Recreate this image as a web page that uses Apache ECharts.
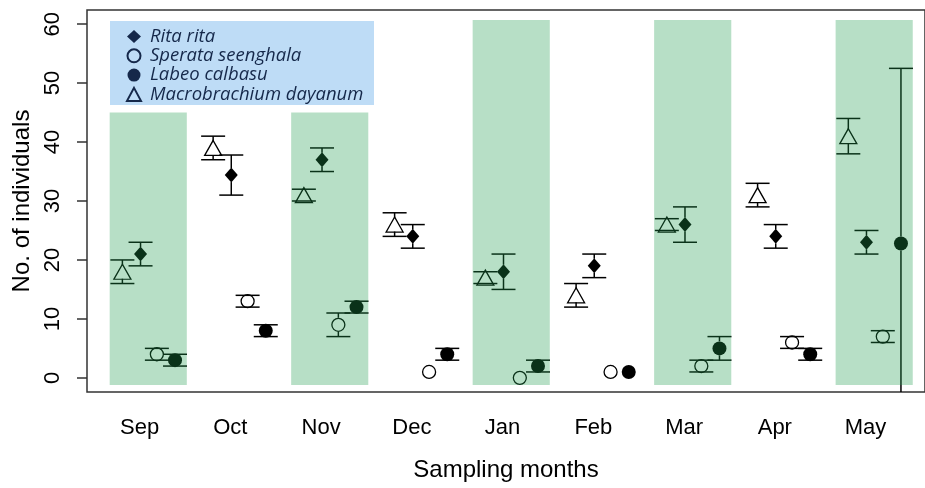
<!DOCTYPE html>
<html>
<head>
<meta charset="utf-8">
<script src="https://cdn.jsdelivr.net/npm/echarts@6/dist/echarts.min.js"></script>
<style>
  html, body { margin: 0; padding: 0; background: #fff; }
  #chart { width: 925px; height: 488px; }
</style>
</head>
<body>
<div id="chart"></div>
<script>
// month labels, in sampling order
const months = ["Sep", "Oct", "Nov", "Dec", "Jan", "Feb", "Mar", "Apr", "May"];
const yTicks = [0, 10, 20, 30, 40, 50, 60];

// mean and error per species
const ritaMean = [21, 34.4, 37, 24, 18, 19, 26, 24, 23];
const ritaErr = [2, 3.4, 2, 2, 3, 2, 3, 2, 2];
const speraMean = [4, 13, 9, 1, 0, 1, 2, 6, 7];
const speraErr = [1, 1, 2, 0, 0, 0, 1, 1, 1];
const labeoMean = [3, 8, 12, 4, 2, 1, 5, 4, 22.8];
const labeoErr = [1, 1, 1, 1, 1, 0, 2, 1, 29.7];
const macroMean = [18, 39, 31, 26, 17, 14, 26, 31, 41];
const macroErr = [2, 2, 1, 2, 1, 2, 1, 2, 3];

// shaded months and the top of each band
const shadedMonths = ["Sep", "Nov", "Jan", "Mar", "May"];
const shadeTop = [45, 45, 60.7, 60.7, 60.7];
const shadeBottom = -1.2;

const NAVY = "#15284a";
const chart = echarts.init(document.getElementById("chart"));

// species: name, data, and how it is drawn
const species = [
  { name: "Rita rita", mean: ritaMean, err: ritaErr, shift: 0.01,
    symbol: "diamond", size: [13, 15], style: { color: "#000", opacity: 1 },
    legendStyle: { color: NAVY } },
  { name: "Sperata seenghala", mean: speraMean, err: speraErr, shift: 0.19,
    symbol: "circle", size: 13, style: { color: "rgba(0,0,0,0)", borderColor: "#000", borderWidth: 1.3, opacity: 1 },
    legendStyle: { borderColor: NAVY } },
  { name: "Labeo calbasu", mean: labeoMean, err: labeoErr, shift: 0.39,
    symbol: "circle", size: 14, style: { color: "#000", opacity: 1 },
    legendStyle: { color: NAVY } },
  { name: "Macrobrachium dayanum", mean: macroMean, err: macroErr, shift: -0.19,
    symbol: "triangle", size: [17, 15], style: { color: "rgba(0,0,0,0)", borderColor: "#000", borderWidth: 1.3, opacity: 1 },
    legendStyle: { borderColor: NAVY } },
];

// error bars with a gap round the point, like plotCI
function errorBar(params, api) {
  const x = api.value(0);
  const mid = api.coord([x, api.value(1)]);
  const hi = api.coord([x, api.value(2)]);
  const lo = api.coord([x, api.value(3)]);
  const gap = 7, cap = 12;
  const st = { stroke: "#000", lineWidth: 1.5 };
  const out = [];
  if (hi[1] >= mid[1]) return { type: "group", children: out };
  if (mid[1] - hi[1] > gap) {
    out.push({ type: "line", shape: { x1: mid[0], y1: mid[1] - gap, x2: hi[0], y2: hi[1] }, style: st });
  }
  if (lo[1] - mid[1] > gap) {
    out.push({ type: "line", shape: { x1: mid[0], y1: mid[1] + gap, x2: lo[0], y2: lo[1] }, style: st });
  }
  out.push({ type: "line", shape: { x1: hi[0] - cap, y1: hi[1], x2: hi[0] + cap, y2: hi[1] }, style: st });
  out.push({ type: "line", shape: { x1: lo[0] - cap, y1: lo[1], x2: lo[0] + cap, y2: lo[1] }, style: st });
  return { type: "group", children: out };
}

// translucent green bands drawn over the points
function band(params, api) {
  const x = api.value(0);
  const p1 = api.coord([x - 0.33, api.value(1)]);
  const p2 = api.coord([x + 0.52, api.value(2)]);
  return {
    type: "rect",
    shape: { x: p1[0], y: p1[1], width: p2[0] - p1[0], height: p2[1] - p1[1] },
    style: { fill: "rgba(31,156,78,0.32)" },
  };
}

const series = [];
species.forEach((s, k) => {
  series.push({
    name: "err" + k,
    type: "custom",
    renderItem: errorBar,
    clip: true,
    z: 2,
    data: s.mean.map((m, i) => [i + 1 + s.shift, m, m + s.err[i], m - s.err[i]]),
  });
  series.push({
    name: s.name,
    type: "scatter",
    symbol: s.symbol,
    symbolSize: s.size,
    itemStyle: s.style,
    z: 3,
    data: s.mean.map((m, i) => [i + 1 + s.shift, m]),
  });
});
series.push({
  name: "bands",
  type: "custom",
  renderItem: band,
  z: 10,
  silent: true,
  data: shadedMonths.map((m, i) => [months.indexOf(m) + 1, shadeTop[i], shadeBottom]),
});

const axisFont = { fontFamily: "Liberation Sans", fontSize: 22, color: "#000" };
const titleFont = { fontFamily: "Liberation Sans", fontSize: 24, color: "#000" };

chart.setOption({
  animation: false,
  grid: {
    left: 87, top: 10, width: 845, height: 382,
    show: true, borderColor: "#333", borderWidth: 1.5, backgroundColor: "transparent",
  },
  legend: {
    left: 110, top: 21,
    orient: "vertical",
    backgroundColor: "#bedcf6",
    padding: [6, 9, 1, 16],
    itemGap: 0.3,
    itemWidth: 14,
    itemHeight: 13,
    textStyle: {
      fontFamily: "Open Sans", fontStyle: "italic", fontSize: 18.5, color: NAVY,
      width: 215, lineHeight: 17, padding: [0, 0, 0, 4],
    },
    data: species.map((s) => ({ name: s.name, itemStyle: s.legendStyle })),
    selectedMode: false,
  },
  xAxis: {
    type: "value",
    min: 0.42, max: 9.655,
    name: "Sampling months",
    nameLocation: "middle",
    nameGap: 66,
    nameTextStyle: titleFont,
    axisLine: { show: false },
    axisTick: { show: false },
    splitLine: { show: false },
    axisLabel: Object.assign({
      customValues: months.map((m, i) => i + 1),
      formatter: (v) => months[Math.round(v) - 1],
      margin: 25,
    }, axisFont),
  },
  yAxis: {
    type: "value",
    min: -2.4, max: 62.4,
    name: "No. of individuals",
    nameLocation: "middle",
    nameGap: 52,
    nameTextStyle: titleFont,
    axisLine: { show: false },
    splitLine: { show: false },
    axisTick: { show: true, length: 10, customValues: yTicks, lineStyle: { color: "#333", width: 1.5 } },
    axisLabel: Object.assign({ customValues: yTicks, rotate: 90, margin: 23 }, axisFont),
  },
  series: series,
});
</script>
</body>
</html>
